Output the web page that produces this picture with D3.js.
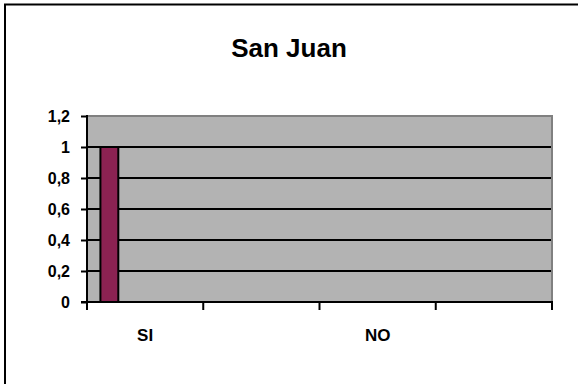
<!DOCTYPE html>
<html>
<head>
<meta charset="utf-8">
<script src="https://cdn.jsdelivr.net/npm/d3@7"></script>
<style>
  body { margin: 0; background: #fff; }
  text { font-family: "Liberation Sans", Arial, sans-serif; font-weight: bold; fill: #000; }
</style>
</head>
<body>
<div id="chart"></div>
<script>
// datos
var categories = ["SI", "", "NO", ""];
var series = ["Serie1", "Serie2", "Serie3", "Serie4", "Serie5"];
var values = [
  [1, 0, 0, 0, 0],   // SI
  [0, 0, 0, 0, 0],
  [0, 0, 0, 0, 0],   // NO
  [0, 0, 0, 0, 0]
];
var yTicks = [0, 0.2, 0.4, 0.6, 0.8, 1, 1.2];
var title = "San Juan";

var width = 578, height = 384;
var plot = { left: 87, right: 552, top: 116, bottom: 302 };

var svg = d3.select('#chart').append('svg')
  .attr('width', width)
  .attr('height', height);

// marco exterior
svg.append('rect')
  .attr('x', 5).attr('y', 4.5)
  .attr('width', width + 20).attr('height', height + 20)
  .attr('fill', '#fff')
  .attr('stroke', '#000').attr('stroke-width', 2);

// titulo
svg.append('text')
  .attr('x', 289).attr('y', 57)
  .attr('text-anchor', 'middle')
  .style('font-size', '26px')
  .text(title);

var x = d3.scaleBand().domain(d3.range(categories.length)).range([plot.left, plot.right]);
// gap width 150% like excel
var gap = 1.5;
var barW = x.bandwidth() / (series.length + gap);
var xs = d3.scaleBand().domain(series).range([barW * gap / 2, x.bandwidth() - barW * gap / 2]);
var y = d3.scaleLinear().domain([0, 1.2]).range([plot.bottom, plot.top]);

// fondo del area de trazado
svg.append('rect')
  .attr('x', plot.left).attr('y', plot.top)
  .attr('width', plot.right - plot.left).attr('height', plot.bottom - plot.top)
  .attr('fill', '#b3b3b3');

// borde gris arriba y derecha
svg.append('path')
  .attr('d', 'M' + plot.left + ',' + plot.top + 'H' + plot.right + 'V' + plot.bottom)
  .attr('fill', 'none').attr('stroke', '#808080').attr('stroke-width', 2);

// lineas de division
svg.selectAll('.grid').data(yTicks.filter(function(d) { return d > 0 && d < 1.2; }))
  .enter().append('line')
  .attr('x1', plot.left).attr('x2', plot.right - 1)
  .attr('y1', function(d) { return y(d); }).attr('y2', function(d) { return y(d); })
  .attr('stroke', '#000').attr('stroke-width', 2);

// barras
var groups = svg.selectAll('.cat').data(values).enter().append('g')
  .attr('transform', function(d, i) { return 'translate(' + x(i) + ',0)'; });
groups.selectAll('rect').data(function(d) { return d.map(function(v, j) { return { s: series[j], v: v }; }); })
  .enter().filter(function(d) { return d.v > 0; }).append('rect')
  .attr('x', function(d) { return xs(d.s); })
  .attr('width', xs.bandwidth())
  .attr('y', function(d) { return y(d.v); })
  .attr('height', function(d) { return y(0) - y(d.v); })
  .attr('fill', '#8b2252')
  .attr('stroke', '#000').attr('stroke-width', 2);

// eje Y
var yAxis = d3.axisLeft(y).tickValues(yTicks).tickSize(6).tickPadding(11)
  .tickFormat(function(d) { return d3.format('~g')(d).replace('.', ','); });
var gy = svg.append('g').attr('transform', 'translate(' + plot.left + ',0)').call(yAxis);
gy.select('.domain').attr('stroke', '#000').attr('stroke-width', 2).attr('d', 'M0,' + (plot.top - 1) + 'V' + plot.bottom);
gy.selectAll('.tick line').attr('stroke', '#000').attr('stroke-width', 2);
gy.selectAll('.tick text').style('font-size', '16px').attr('dy', '0.36em');

// eje X
var xTickPos = d3.range(categories.length + 1).map(function(i) { return plot.left + i * x.step(); });
svg.append('line')
  .attr('x1', plot.left - 6).attr('x2', plot.right + 1)
  .attr('y1', plot.bottom).attr('y2', plot.bottom)
  .attr('stroke', '#000').attr('stroke-width', 2);
svg.selectAll('.xtick').data(xTickPos).enter().append('line')
  .attr('x1', function(d) { return d; }).attr('x2', function(d) { return d; })
  .attr('y1', plot.bottom).attr('y2', plot.bottom + 8)
  .attr('stroke', '#000').attr('stroke-width', 2);
svg.selectAll('.xlabel').data(categories).enter().append('text')
  .attr('x', function(d, i) { return x(i) + x.bandwidth() / 2; })
  .attr('y', 341)
  .attr('text-anchor', 'middle')
  .style('font-size', '17px')
  .text(function(d) { return d; });
</script>
</body>
</html>
